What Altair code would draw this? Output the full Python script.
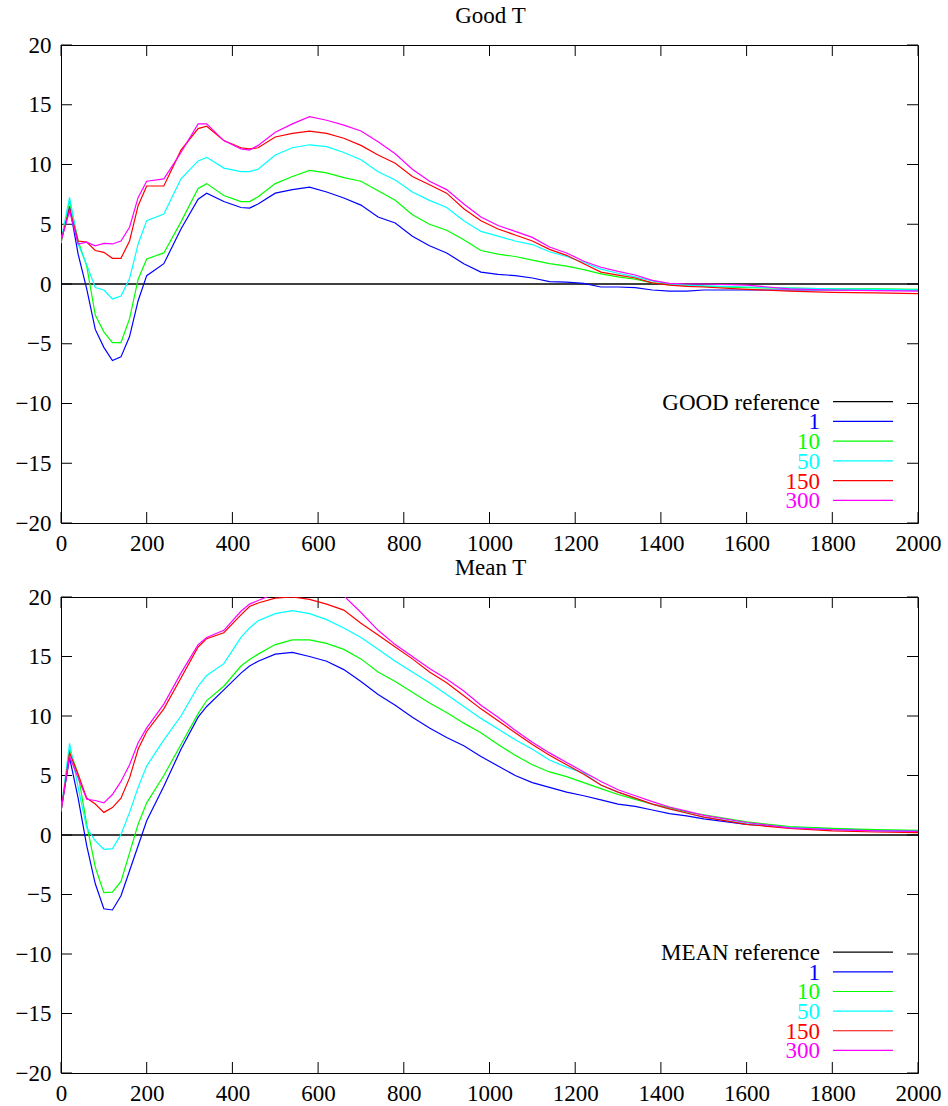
import altair as alt
import pandas as pd

# Sample positions (shared by every run)
x_vals = [0, 20, 40, 60, 80, 100, 120, 140, 160, 180, 200, 240, 280, 320, 340,
          380, 420, 440, 460, 500, 540, 580, 620, 660, 700, 740, 780, 820, 860,
          900, 940, 980, 1020, 1060, 1100, 1140, 1180, 1220, 1260, 1300, 1340,
          1380, 1420, 1460, 1500, 1600, 1700, 1800, 1900, 2000]

# Good T runs
good_1 = [3.6, 6.5, 2.5, -0.4, -3.8, -5.3, -6.4, -6.1, -4.4, -1.4, 0.7, 1.7, 4.6, 7.1, 7.6,
          6.9, 6.4, 6.35, 6.7, 7.6, 7.9, 8.1, 7.7, 7.2, 6.6, 5.6, 5.1, 4.0, 3.2,
          2.6, 1.7, 1.0, 0.8, 0.7, 0.5, 0.2, 0.15, 0.05, -0.25, -0.25, -0.3,
          -0.5, -0.6, -0.6, -0.5, -0.5, -0.5, -0.5, -0.5, -0.5]
good_10 = [3.4, 7.0, 3.6, 1.5, -2.6, -4.0, -4.9, -4.9, -2.9, 0.4, 2.1, 2.6, 5.2, 8.0, 8.4,
           7.4, 6.9, 6.9, 7.3, 8.4, 9.0, 9.5, 9.3, 8.9, 8.6, 7.8, 7.0, 5.8, 5.0,
           4.5, 3.7, 2.8, 2.5, 2.3, 2.0, 1.7, 1.5, 1.2, 0.85, 0.6, 0.4,
           0.1, -0.05, -0.1, -0.2, -0.3, -0.35, -0.4, -0.4, -0.45]
good_50 = [3.6, 7.25, 3.35, 1.6, -0.3, -0.5, -1.25, -1.0, 0.45, 3.35, 5.3, 5.85, 8.8, 10.3, 10.6,
           9.7, 9.4, 9.4, 9.6, 10.8, 11.4, 11.65, 11.5, 11.0, 10.4, 9.4, 8.7, 7.7, 7.0,
           6.4, 5.3, 4.4, 4.0, 3.6, 3.3, 2.7, 2.3, 1.8, 1.25, 0.9, 0.6,
           0.25, 0.0, -0.1, -0.15, -0.25, -0.35, -0.4, -0.45, -0.5]
good_150 = [3.6, 6.3, 3.6, 3.5, 2.8, 2.65, 2.15, 2.15, 3.6, 6.55, 8.2, 8.2, 11.2, 13.0, 13.2,
            12.0, 11.4, 11.3, 11.4, 12.3, 12.6, 12.8, 12.6, 12.2, 11.6, 10.8, 10.1, 9.0, 8.3,
            7.6, 6.3, 5.3, 4.6, 4.1, 3.6, 2.9, 2.4, 1.7, 1.0, 0.75, 0.5,
            0.1, -0.1, -0.2, -0.25, -0.45, -0.6, -0.7, -0.75, -0.8]
good_300 = [3.6, 6.1, 3.35, 3.5, 3.2, 3.4, 3.35, 3.6, 4.75, 7.25, 8.6, 8.8, 11.0, 13.4, 13.4,
            12.0, 11.3, 11.2, 11.6, 12.7, 13.4, 14.0, 13.7, 13.3, 12.8, 11.9, 10.9, 9.6, 8.6,
            7.9, 6.7, 5.6, 4.9, 4.4, 3.9, 3.1, 2.6, 1.9, 1.4, 1.05, 0.75,
            0.3, 0.05, 0.0, 0.0, -0.1, -0.4, -0.5, -0.55, -0.6]

# Mean T runs
mean_1 = [2.0, 6.5, 3.1, -0.9, -4.1, -6.2, -6.3, -5.1, -3.0, -0.9, 1.2, 4.1, 7.2, 9.9, 10.8,
          12.2, 13.6, 14.2, 14.6, 15.2, 15.35, 15.0, 14.6, 13.9, 12.9, 11.8, 10.9, 9.9, 9.0,
          8.2, 7.5, 6.6, 5.8, 5.0, 4.4, 4.0, 3.6, 3.3, 2.95, 2.6, 2.4,
          2.1, 1.8, 1.6, 1.35, 0.9, 0.65, 0.5, 0.4, 0.35]
mean_10 = [2.0, 7.2, 5.1, 0.9, -2.7, -4.85, -4.8, -3.9, -1.5, 0.9, 2.7, 5.0, 7.6, 10.2, 11.3,
           12.5, 14.2, 14.75, 15.2, 16.0, 16.4, 16.4, 16.1, 15.6, 14.8, 13.7, 12.9, 12.0, 11.1,
           10.3, 9.4, 8.6, 7.6, 6.7, 5.9, 5.3, 4.9, 4.4, 3.9, 3.4, 3.0,
           2.6, 2.3, 1.95, 1.7, 1.1, 0.7, 0.55, 0.45, 0.4]
mean_50 = [2.0, 7.7, 4.0, 0.6, -0.5, -1.2, -1.15, 0.05, 1.9, 4.0, 5.8, 8.0, 10.0, 12.5, 13.4,
           14.4, 16.6, 17.4, 18.0, 18.6, 18.85, 18.6, 18.1, 17.4, 16.6, 15.6, 14.6, 13.7, 12.8,
           11.8, 10.8, 9.8, 8.9, 8.0, 7.2, 6.3, 5.7, 5.2, 4.2, 3.6, 3.1,
           2.6, 2.2, 1.85, 1.5, 0.95, 0.65, 0.45, 0.35, 0.3]
mean_150 = [2.0, 6.9, 5.1, 3.1, 2.6, 1.9, 2.3, 3.1, 4.8, 7.2, 8.7, 10.6, 13.2, 15.8, 16.5,
            17.0, 18.5, 19.2, 19.5, 19.9, 20.0, 19.8, 19.4, 18.9, 17.8, 16.8, 15.8, 14.8, 13.7,
            12.8, 11.7, 10.6, 9.6, 8.6, 7.6, 6.7, 5.9, 5.1, 4.2, 3.6, 3.1,
            2.6, 2.2, 1.85, 1.5, 0.9, 0.55, 0.35, 0.25, 0.2]
mean_300 = [2.0, 6.6, 4.8, 3.0, 2.9, 2.7, 3.4, 4.5, 5.9, 7.75, 9.0, 11.0, 13.6, 16.0, 16.6,
            17.2, 18.8, 19.4, 19.7, 20.3, 20.9, 21.0, 20.8, 20.1, 18.7, 17.2, 16.0, 15.0, 14.0,
            13.1, 12.1, 10.9, 9.9, 8.8, 7.8, 6.9, 6.1, 5.3, 4.5, 3.8, 3.3,
            2.8, 2.35, 2.0, 1.65, 1.05, 0.6, 0.45, 0.35, 0.3]

# Zero reference line
ref_x = [0, 2000]
ref_y = [0, 0]

run_names = ["1", "10", "50", "150", "300"]
run_colors = ["#0000ff", "#00ff00", "#00ffff", "#ff0000", "#ff00ff"]

x_ticks = list(range(0, 2001, 200))
y_ticks = list(range(-20, 21, 5))

FONT = "Liberation Serif"
FS = 23
W = 857
TICK = 11


def panel(title, ref_label, runs, height):
    labels = [ref_label] + run_names
    colors = ["#000000"] + run_colors

    rows = []
    for name, vals in zip(run_names, runs):
        for xv, yv in zip(x_vals, vals):
            rows.append({"x": xv, "y": yv, "run": name})
    curves = pd.DataFrame(rows)
    ref = pd.DataFrame({"x": ref_x, "y": ref_y, "run": ref_label})

    xs = alt.Scale(domain=[0, 2000], nice=False, zero=False)
    ys = alt.Scale(domain=[-20, 20], nice=False, zero=False)
    cs = alt.Scale(domain=labels, range=colors)

    x_axis = alt.Axis(values=x_ticks, format="d", ticks=False, domain=False, grid=False,
                      labelFont=FONT, labelFontSize=FS, labelColor="black",
                      labelPadding=9, labelFlush=False, labelOverlap=False, title=None)
    y_axis = alt.Axis(values=y_ticks, format="d", ticks=False, domain=False, grid=False,
                      labelFont=FONT, labelFontSize=FS, labelColor="black",
                      labelPadding=10, labelOverlap=False, title=None)

    ref_line = alt.Chart(ref).mark_line(strokeWidth=1.3, clip=True).encode(
        x=alt.X("x:Q", scale=xs, axis=x_axis),
        y=alt.Y("y:Q", scale=ys, axis=y_axis),
        color=alt.Color("run:N", scale=cs, legend=None),
    )
    lines = alt.Chart(curves).mark_line(strokeWidth=1.2, clip=True).encode(
        x=alt.X("x:Q", scale=xs, axis=x_axis),
        y=alt.Y("y:Q", scale=ys, axis=y_axis),
        color=alt.Color("run:N", scale=cs, legend=None),
        order=alt.Order("x:Q"),
    )

    # legend drawn inside the plot, labels right-aligned before the samples
    key = pd.DataFrame({"run": labels, "i": list(range(len(labels)))})
    key_base = alt.Chart(key).transform_calculate(ky="-9.85 - 1.65 * datum.i")
    key_text = key_base.mark_text(align="right", baseline="middle", font=FONT,
                                  fontSize=FS, dy=1).encode(
        x=alt.value(759),
        y=alt.Y("ky:Q", scale=ys),
        text="run:N",
        color=alt.Color("run:N", scale=cs, legend=None),
    )
    key_line = key_base.mark_rule(strokeWidth=1.2).encode(
        x=alt.value(772), x2=alt.value(832),
        y=alt.Y("ky:Q", scale=ys),
        color=alt.Color("run:N", scale=cs, legend=None),
    )

    # panel heading above the frame
    head = alt.Chart(pd.DataFrame({"t": [title]})).mark_text(
        font=FONT, fontSize=FS, color="black", align="center", baseline="middle"
    ).encode(x=alt.value(W / 2 + 1), y=alt.value(-29), text="t:N")

    # inward ticks on all four sides
    xt = alt.Chart(pd.DataFrame({"t": x_ticks}))
    yt = alt.Chart(pd.DataFrame({"t": y_ticks}))
    tick_b = xt.mark_rule(color="black", strokeWidth=1).encode(
        x=alt.X("t:Q", scale=xs), y=alt.value(height), y2=alt.value(height - TICK))
    tick_t = xt.mark_rule(color="black", strokeWidth=1).encode(
        x=alt.X("t:Q", scale=xs), y=alt.value(0), y2=alt.value(TICK))
    tick_l = yt.mark_rule(color="black", strokeWidth=1).encode(
        y=alt.Y("t:Q", scale=ys), x=alt.value(0), x2=alt.value(TICK))
    tick_r = yt.mark_rule(color="black", strokeWidth=1).encode(
        y=alt.Y("t:Q", scale=ys), x=alt.value(W - TICK), x2=alt.value(W))

    return alt.layer(ref_line, tick_b, tick_t, tick_l, tick_r, lines,
                     key_line, key_text, head).properties(width=W, height=height)


top = panel("Good T", "GOOD reference",
            [good_1, good_10, good_50, good_150, good_300], 478)
bottom = panel("Mean T", "MEAN reference",
               [mean_1, mean_10, mean_50, mean_150, mean_300], 476)

chart = alt.vconcat(top, bottom, spacing=0).resolve_scale(
    color="independent"
).properties(
    padding={"left": 14, "top": 4, "right": 6, "bottom": 0},
    background="white",
).configure(
    font=FONT
).configure_view(
    stroke="black", strokeWidth=1
).configure_axis(
    labelFont=FONT, labelFontSize=FS, labelColor="black"
).configure_text(font=FONT)

chart.save("out.html", embed_options={"renderer": "svg", "actions": False})
